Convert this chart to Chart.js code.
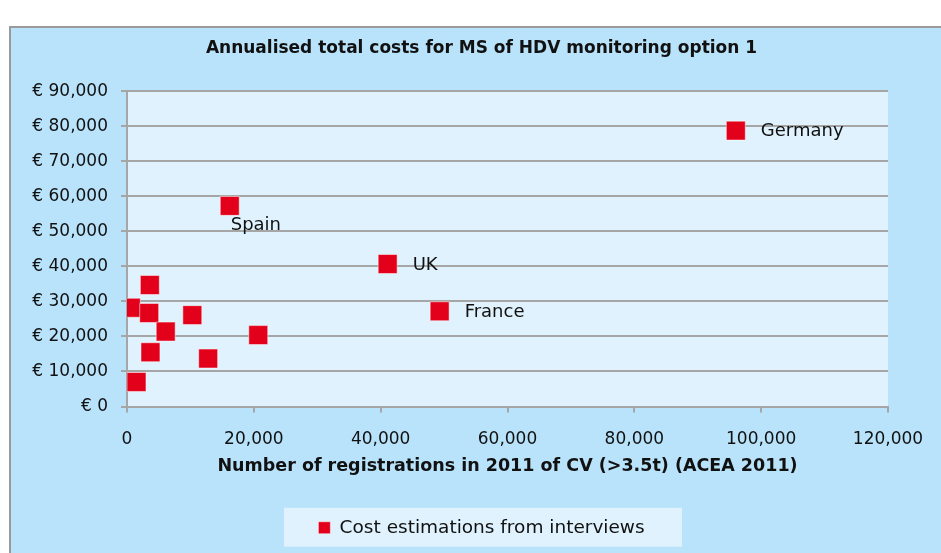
<!DOCTYPE html>
<html>
<head>
<meta charset="utf-8">
<script src="https://cdn.jsdelivr.net/npm/chart.js@4"></script>
<style>
  html, body { margin: 0; padding: 0; background: #fff; overflow: hidden; }
  #wrap { position: relative; width: 941px; height: 553px; }
</style>
</head>
<body>
<div id="wrap"><canvas id="chart"></canvas></div>
<script>
// ── Data ──────────────────────────────────────────────────────────────────────
const registrations = [96000, 16200, 41100, 49300, 3600, 600, 3500, 6100, 10300, 20700, 3700, 12800, 1500];
const annualCostEUR = [78800, 57300, 40700, 27200, 34700, 28200, 26700, 21400, 26100, 20400, 15500, 13700, 7000];
const pointNames    = ['Germany', 'Spain', 'UK', 'France', '', '', '', '', '', '', '', '', ''];
const xTicks = [0, 20000, 40000, 60000, 80000, 100000, 120000];
const yTicks = [0, 10000, 20000, 30000, 40000, 50000, 60000, 70000, 80000, 90000];

const OUTER_BG = '#b9e3fb';
const PLOT_BG  = '#dff2fd';
const GRID     = '#a6a6a6';
const RED      = '#e2001a';
const FONT     = '"DejaVu Sans", sans-serif';

const fmt = v => v.toLocaleString('en-US');

// background frame + plot area + legend panel
const backdrop = {
  id: 'backdrop',
  beforeDraw(chart) {
    const { ctx, chartArea: a, legend } = chart;
    ctx.save();
    ctx.fillStyle = '#fff';
    ctx.fillRect(0, 0, chart.width, chart.height);
    ctx.fillStyle = OUTER_BG;
    ctx.fillRect(10, 27, chart.width, chart.height);
    ctx.strokeStyle = '#9a9a9a';
    ctx.lineWidth = 2;
    ctx.beginPath();
    ctx.moveTo(10, chart.height); ctx.lineTo(10, 27); ctx.lineTo(chart.width, 27);
    ctx.stroke();
    ctx.fillStyle = PLOT_BG;
    ctx.fillRect(a.left, a.top, a.right - a.left, a.bottom - a.top);
    // legend panel
    const cy = legend.top + legend.height / 2;
    ctx.fillRect(284, cy - 20, 398, 39);
    ctx.restore();
  }
};

// country names beside points
const pointLabels = {
  id: 'pointLabels',
  afterDatasetsDraw(chart, args, opts) {
    const { ctx } = chart;
    const meta = chart.getDatasetMeta(0);
    ctx.save();
    ctx.font = '18px ' + FONT;
    ctx.fillStyle = '#111';
    ctx.textBaseline = 'middle';
    ctx.textAlign = 'left';
    meta.data.forEach((pt, i) => {
      const name = pointNames[i];
      if (!name) return;
      if (opts.below.includes(name)) {
        ctx.fillText(name, pt.x + 1, pt.y + 19);
      } else {
        ctx.fillText(name, pt.x + 25, pt.y + 1);
      }
    });
    ctx.restore();
  }
};

new Chart(document.getElementById('chart'), {
  type: 'scatter',
  data: {
    datasets: [{
      label: 'Cost estimations from interviews',
      data: registrations.map((x, i) => ({ x, y: annualCostEUR[i] })),
      backgroundColor: RED,
      borderColor: 'rgba(255,255,255,0.5)',
      borderWidth: 1,
      pointStyle: 'rect',
      pointRadius: 13.4,
      pointHoverRadius: 13.4,
    }]
  },
  options: {
    responsive: true,
    maintainAspectRatio: false,
    animation: false,
    layout: { padding: { left: 22, top: 27, right: 0, bottom: 6 } },
    plugins: {
      title: {
        display: true,
        text: 'Annualised total costs for MS of HDV monitoring option 1',
        color: '#111',
        font: { family: FONT, size: 17, weight: 'bold' },
        padding: { top: 11, bottom: 33 },
      },
      legend: {
        position: 'bottom',
        labels: {
          usePointStyle: true,
          pointStyle: 'rect',
          boxWidth: 12,
          boxHeight: 12,
          color: '#111',
          font: { family: FONT, size: 18.5 },
          padding: 10,
        }
      },
      tooltip: { enabled: false },
      pointLabels: { below: ['Spain'] },
    },
    scales: {
      x: {
        type: 'linear',
        min: 0, max: 120000,
        afterBuildTicks: s => { s.ticks = xTicks.map(v => ({ value: v })); },
        afterFit: s => { s.height = 102; },
        ticks: { color: '#111', font: { family: FONT, size: 17 }, padding: 17, callback: v => fmt(v) },
        grid: { drawOnChartArea: false, drawTicks: true, tickLength: 6, color: GRID, lineWidth: 2 },
        border: { display: true, color: GRID, width: 2 },
        title: {
          display: true,
          text: 'Number of registrations in 2011 of CV (>3.5t) (ACEA 2011)',
          color: '#111',
          font: { family: FONT, size: 17.5, weight: 'bold' },
          padding: { top: 1, bottom: 32 },
        }
      },
      y: {
        type: 'linear',
        min: 0, max: 90000,
        afterBuildTicks: s => { s.ticks = yTicks.map(v => ({ value: v })); },
        afterFit: s => { s.width = 105; },
        ticks: { color: '#111', font: { family: FONT, size: 17 }, padding: 13, callback: v => '€ ' + fmt(v) },
        grid: { color: GRID, lineWidth: 2, tickLength: 6 },
        border: { display: true, color: GRID, width: 2 },
      },
      // empty spacer on the right so the plot ends where the original does
      yRight: {
        type: 'linear',
        position: 'right',
        min: 0, max: 90000,
        afterFit: s => { s.width = 53; },
        ticks: { display: false },
        grid: { display: false },
        border: { display: false },
      }
    }
  },
  plugins: [backdrop, pointLabels]
});
</script>
</body>
</html>
